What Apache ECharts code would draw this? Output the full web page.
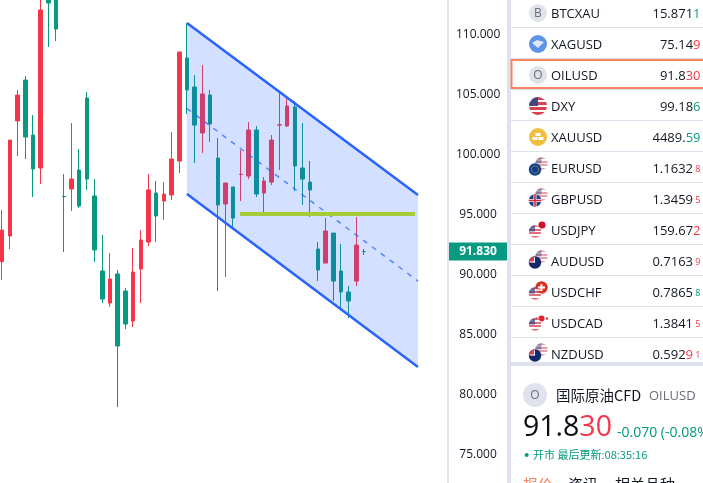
<!DOCTYPE html>
<html>
<head>
<meta charset="utf-8">
<style>html,body{margin:0;padding:0;background:#fff;overflow:hidden}#chart{width:703px;height:483px}</style>
<script src="https://cdn.jsdelivr.net/npm/echarts@6/dist/echarts.min.js"></script>
</head>
<body>
<div id="chart"></div>
<script>
// Candles as [open, close, low, high]
const candles = [
  [90.98,93.62,89.46,95.29],[93.12,101.12,92.04,101.12],[102.71,104.87,99.79,105.29],[106.12,101.37,99.54,106.46],
  [101.54,98.71,96.37,103.21],[98.79,111.96,97.46,113.62],[114.04,112.54,108.87,114.6],[114.87,110.37,109.37,115.5],
  [96.42,96.40,91.79,98.29],[97.04,97.87,95.21,102.54],[98.62,95.62,95.46,100.37],[104.62,97.87,96.96,105.12],
  [96.46,91.96,90.96,97.87],[90.21,87.87,87.54,93.21],[87.54,89.54,87.21,91.71],[89.96,83.96,78.87,90.29],
  [88.54,85.79,85.37,88.79],[86.04,90.12,85.54,92.12],[90.37,92.79,87.54,93.62],[92.62,96.96,92.29,98.29],
  [96.71,94.79,92.62,97.71],[96.04,96.62,94.46,97.62],[96.54,99.54,96.12,101.79],[99.37,108.46,98.37,108.46],
  [107.96,105.29,103.29,110.87],[105.54,102.37,99.21,106.54],[101.71,104.96,100.04,107.37],[104.87,102.46,100.96,105.29],
  [99.62,95.71,88.54,101.29],[95.79,97.54,89.71,97.54],[97.21,94.62,93.79,97.21],[98.25,98.27,96.04,100.29],
  [98.12,101.96,97.87,102.62],[101.96,96.62,96.37,102.29],[96.71,97.71,95.12,98.04],[97.62,101.12,97.37,101.54],
  [102.37,102.39,98.62,105.12],[102.29,103.96,102.21,104.62],[103.87,98.96,96.87,104.37],[98.79,97.87,95.71,102.54],
  [97.62,96.96,94.71,99.37],[92.04,90.29,89.37,92.62],[90.87,93.54,90.87,94.62],[93.37,89.37,87.71,93.37],
  [90.21,88.46,87.04,92.46],[88.46,87.71,86.29,88.96],[89.37,92.37,88.96,94.71],[91.84,91.83,91.54,92.04]
];
const priceTicks = [75, 80, 85, 90, 95, 100, 105, 110];
const lastPrice = 91.83;

// Channel and level drawings, as [bar index, price]
const channelUpper = [[24, 110.87], [54, 96.54]];
const channelLower = [[24, 96.62], [54, 82.21]];
const channelMiddle = [[24, 103.75], [54, 89.37]];
const levelLine = [[30.89, 94.96], [53.62, 94.96]];

// Watchlist rows
const watchSymbols = ['BTCXAU','XAGUSD','OILUSD','DXY','XAUUSD','EURUSD','GBPUSD','USDJPY','AUDUSD','USDCHF','USDCAD','NZDUSD'];
const watchPlain   = ['15.871','75.14','91.8','99.18','4489.','1.1632','1.3459','159.67','0.7163','0.7865','1.3841','0.592'];
const watchAccent  = ['1','9','30','6','59','','','2','','','','9'];
const watchTiny    = ['','','','','','8','5','','9','8','5','1'];
const watchTrend   = ['g','r','r','g','g','r','r','r','r','g','r','r'];
const watchIcons   = ['B','silver','O','us','gold','eu','gb','jp','au','ch','ca','nz'];

const RED = '#f5364a', GREEN = '#089981', INK = '#131722', EDGE = '#e0e3eb', BAND = '#dfe2ee';
const UI_FONT = '"Open Sans", sans-serif';
const CJK_FONT = '"Noto Sans CJK SC", sans-serif';

const chart = echarts.init(document.getElementById('chart'), null, {renderer: 'canvas'});

function disc(x, y, r, fill, opacity) {
  return {type: 'circle', silent: true, shape: {cx: x, cy: y, r}, style: {fill, opacity: opacity == null ? 1 : opacity}};
}
function usFlag(x, y, r, opacity) {
  const stops = [];
  const n = 7;
  for (let i = 0; i < n; i++) {
    const c = i % 2 ? '#ffffff' : '#d8414f';
    stops.push({offset: i / n, color: c}, {offset: (i + 1) / n, color: c});
  }
  return [
    {type: 'circle', silent: true, shape: {cx: x, cy: y, r},
      style: {opacity, fill: {type: 'linear', x: 0, y: 0, x2: 0, y2: 1, colorStops: stops}}},
    {type: 'sector', silent: true, shape: {cx: x, cy: y, r0: 0, r, startAngle: Math.PI, endAngle: Math.PI * 1.5},
      style: {fill: '#46467f', opacity}}
  ];
}
function navyStarFlag(x, y, r) {
  return [
    disc(x, y, r, '#12296b'),
    {type: 'sector', silent: true, shape: {cx: x, cy: y, r0: 0, r, startAngle: Math.PI, endAngle: Math.PI * 1.5}, style: {fill: '#c9435a'}},
    {type: 'rect', silent: true, shape: {x: x - r + 1, y: y - 1, width: r - 1, height: 1}, style: {fill: '#ffffff'}},
    {type: 'rect', silent: true, shape: {x: x - 1, y: y - r + 1, width: 1, height: r - 1}, style: {fill: '#ffffff'}}
  ];
}
function iconFor(kind, y) {
  const cx = 538, fx = 535, fy = y + 1.5, bx = 541.5, by = y - 4.5, r = 6.2;
  const letter = ch => [
    disc(cx, y, 9, '#e0e3eb'),
    {type: 'text', silent: true, style: {x: cx, y: y + 0.5, text: ch, fill: '#6a6d78', font: '12px ' + UI_FONT, align: 'center', verticalAlign: 'middle'}}
  ];
  switch (kind) {
    case 'B': case 'O': return letter(kind);
    case 'silver': return [
      disc(cx, y, 9, '#5f93e6'),
      {type: 'polygon', silent: true, shape: {points: [[cx - 6, y - 1], [cx - 1, y - 4], [cx + 6, y - 2], [cx, y + 4]]}, style: {fill: '#dce8fb'}}
    ];
    case 'us': return usFlag(cx, y, 9, 1);
    case 'gold': return [
      disc(cx, y, 9, '#f0bf41'),
      {type: 'rect', silent: true, shape: {x: cx - 2.5, y: y - 4, width: 5, height: 3}, style: {fill: '#fff'}},
      {type: 'rect', silent: true, shape: {x: cx - 5.5, y: y, width: 5, height: 3}, style: {fill: '#fff'}},
      {type: 'rect', silent: true, shape: {x: cx + 0.5, y: y, width: 5, height: 3}, style: {fill: '#fff'}}
    ];
    case 'eu': return [
      ...usFlag(bx, by, r, 0.5),
      disc(fx, fy, r, '#0f3d8c'),
      {type: 'circle', silent: true, shape: {cx: fx, cy: fy, r: 3.6}, style: {fill: 'none', stroke: '#e5c63a', lineWidth: 1, lineDash: [1, 1]}}
    ];
    case 'gb': return [
      ...usFlag(bx, by, r, 0.5),
      disc(fx, fy, r, '#1f3f8f'),
      {type: 'rect', silent: true, shape: {x: fx - r, y: fy - 1.5, width: 2 * r, height: 3}, style: {fill: '#fff'}},
      {type: 'rect', silent: true, shape: {x: fx - 1.5, y: fy - r, width: 3, height: 2 * r}, style: {fill: '#fff'}},
      {type: 'rect', silent: true, shape: {x: fx - r, y: fy - 0.8, width: 2 * r, height: 1.6}, style: {fill: '#d8283c'}},
      {type: 'rect', silent: true, shape: {x: fx - 0.8, y: fy - r, width: 1.6, height: 2 * r}, style: {fill: '#d8283c'}}
    ];
    case 'jp': return [
      disc(bx, by, r, '#ffffff'),
      disc(bx + 0.5, by - 0.5, 3.6, '#d0102c'),
      ...usFlag(fx, fy, r, 0.75)
    ];
    case 'au': case 'nz': return [
      ...usFlag(bx, by, r, 0.5),
      ...navyStarFlag(fx, fy, r)
    ];
    case 'ch': return [
      disc(bx, by, r, '#dd2c20'),
      {type: 'rect', silent: true, shape: {x: bx - 1, y: by - 3.5, width: 2, height: 7}, style: {fill: '#fff'}},
      {type: 'rect', silent: true, shape: {x: bx - 3.5, y: by - 1, width: 7, height: 2}, style: {fill: '#fff'}},
      ...usFlag(fx, fy, r, 0.75)
    ];
    case 'ca': return [
      disc(bx, by, 3, '#e0232e'),
      {type: 'rect', silent: true, shape: {x: bx - 6, y: by - 1, width: 2, height: 2}, style: {fill: '#e0232e'}},
      {type: 'rect', silent: true, shape: {x: bx + 4.5, y: by - 1, width: 2, height: 2}, style: {fill: '#e0232e'}},
      ...usFlag(fx, fy, r, 0.75)
    ];
  }
  return [];
}

function sidePanel() {
  const items = [
    {type: 'rect', silent: true, shape: {x: 507, y: 0, width: 4, height: 483}, style: {fill: BAND}}
  ];
  watchSymbols.forEach((sym, i) => {
    const y = 13 + i * 31;
    if (i < 11) {
      items.push({type: 'rect', silent: true, shape: {x: 511, y: y + 14, width: 192, height: 1}, style: {fill: '#dfe2ec'}});
    }
    items.push(...iconFor(watchIcons[i], y));
    items.push({type: 'text', silent: true, style: {x: 551, y: y + 1, text: sym, fill: INK, font: '13px ' + UI_FONT, verticalAlign: 'middle'}});
    const tone = watchTrend[i];
    const parts = ['{p|' + watchPlain[i] + '}'];
    if (watchAccent[i]) parts.push('{' + tone + '|' + watchAccent[i] + '}');
    if (watchTiny[i]) parts.push('{t' + tone + '|' + ' ' + watchTiny[i] + '}');
    items.push({type: 'text', silent: true, style: {
      x: 700.5, y: y + 1, text: parts.join(''), align: 'right', verticalAlign: 'middle',
      rich: {
        p: {fill: INK, font: '13px ' + UI_FONT},
        r: {fill: RED, font: '13px ' + UI_FONT},
        g: {fill: GREEN, font: '13px ' + UI_FONT},
        tr: {fill: RED, font: '9px ' + UI_FONT},
        tg: {fill: GREEN, font: '9px ' + UI_FONT}
      }
    }});
  });
  // Selected row outline
  items.push({type: 'rect', silent: true, shape: {x: 511.5, y: 60, width: 193, height: 28}, style: {fill: 'none', stroke: '#f5845f', lineWidth: 2}});
  // Band closing the watchlist
  items.push({type: 'rect', silent: true, shape: {x: 511, y: 362, width: 192, height: 4}, style: {fill: BAND}});
  // Instrument summary
  items.push(disc(535, 395, 12, '#e0e3eb'));
  items.push({type: 'text', silent: true, style: {x: 535, y: 395.5, text: 'O', fill: '#6a6d78', font: '12px ' + UI_FONT, align: 'center', verticalAlign: 'middle'}});
  items.push({type: 'text', silent: true, style: {x: 556, y: 395, text: '国际原油CFD', fill: INK, font: '14.5px ' + CJK_FONT, verticalAlign: 'middle'}});
  items.push({type: 'text', silent: true, style: {x: 649, y: 396, text: 'OILUSD', fill: '#6a6d78', font: '13px ' + UI_FONT, verticalAlign: 'middle'}});
  items.push({type: 'text', silent: true, style: {x: 523, y: 428, text: '{p|91.8}{r|30}', verticalAlign: 'middle', rich: {
    p: {fill: '#0b0e14', font: '28.5px ' + UI_FONT}, r: {fill: RED, font: '28.5px ' + UI_FONT}}}});
  items.push({type: 'text', silent: true, style: {x: 617, y: 433, text: '-0.070 (-0.08%)', fill: GREEN, font: '14px ' + UI_FONT, verticalAlign: 'middle'}});
  items.push(disc(526.7, 455, 2, GREEN));
  items.push({type: 'text', silent: true, style: {x: 533, y: 455, text: '开市 最后更新:08:35:16', fill: GREEN, font: '11px ' + CJK_FONT, verticalAlign: 'middle'}});
  items.push({type: 'text', silent: true, style: {x: 523, y: 484, text: '报价', fill: '#f5845f', font: '15px ' + CJK_FONT, verticalAlign: 'middle'}});
  items.push({type: 'text', silent: true, style: {x: 568, y: 484, text: '资讯', fill: INK, font: '15px ' + CJK_FONT, verticalAlign: 'middle'}});
  items.push({type: 'text', silent: true, style: {x: 615, y: 484, text: '相关品种', fill: INK, font: '15px ' + CJK_FONT, verticalAlign: 'middle'}});
  return items;
}

const option = {
  animation: false,
  backgroundColor: '#ffffff',
  grid: {left: -1.7, top: 0, width: 446.6, height: 483, outerBoundsMode: 'none', containLabel: false},
  xAxis: {type: 'value', min: -0.5, max: 57.5, show: false},
  yAxis: {
    type: 'value', position: 'right', offset: 3.2, min: 72.542, max: 112.792, scale: true,
    axisLine: {show: true, onZero: false, lineStyle: {color: EDGE, width: 2}},
    axisTick: {show: false},
    splitLine: {show: false},
    axisLabel: {
      customValues: priceTicks, align: 'center', margin: 30, color: INK,
      fontFamily: UI_FONT, fontSize: 12, verticalAlign: 'top', lineHeight: 2,
      formatter: v => v.toFixed(3)
    }
  },
  series: [
    {
      type: 'candlestick', barWidth: 4, z: 2,
      data: candles.map((c, i) => [i, ...c]),
      encode: {x: 0, y: [1, 2, 3, 4]},
      itemStyle: {color: RED, color0: GREEN, borderColor: RED, borderColor0: GREEN, borderWidth: 1}
    },
    {
      type: 'custom', z: 3, silent: true,
      data: [channelUpper[0]],
      encode: {x: 0, y: 1},
      renderItem: (params, api) => ({
        type: 'polygon',
        shape: {points: [channelUpper[0], channelUpper[1], channelLower[1], channelLower[0]].map(p => api.coord(p))},
        style: {fill: 'rgba(41,98,255,0.2)'}
      })
    },
    {type: 'line', z: 4, silent: true, data: channelUpper, symbol: 'none', lineStyle: {color: '#2962ff', width: 2.5}},
    {type: 'line', z: 4, silent: true, data: channelLower, symbol: 'none', lineStyle: {color: '#2962ff', width: 2.5}},
    {type: 'line', z: 4, silent: true, data: channelMiddle, symbol: 'none', lineStyle: {color: '#2962ff', width: 1.5, type: [5, 6], opacity: 0.75}},
    {type: 'line', z: 5, silent: true, data: levelLine, symbol: 'none', lineStyle: {color: '#a5cb39', width: 4}}
  ]
};
chart.setOption(option);

// Last-price tag sits on the axis at the price's own height
const tagY = chart.convertToPixel({yAxisIndex: 0}, lastPrice);
chart.setOption({graphic: {elements: [
  ...sidePanel(),
  {type: 'rect', silent: true, shape: {x: 449, y: tagY - 9, width: 58, height: 18}, style: {fill: GREEN}},
  {type: 'text', silent: true, style: {x: 478, y: tagY, text: lastPrice.toFixed(3), fill: '#ffffff', font: 'bold 12px ' + UI_FONT, align: 'center', verticalAlign: 'middle'}}
]}});
</script>
</body>
</html>
